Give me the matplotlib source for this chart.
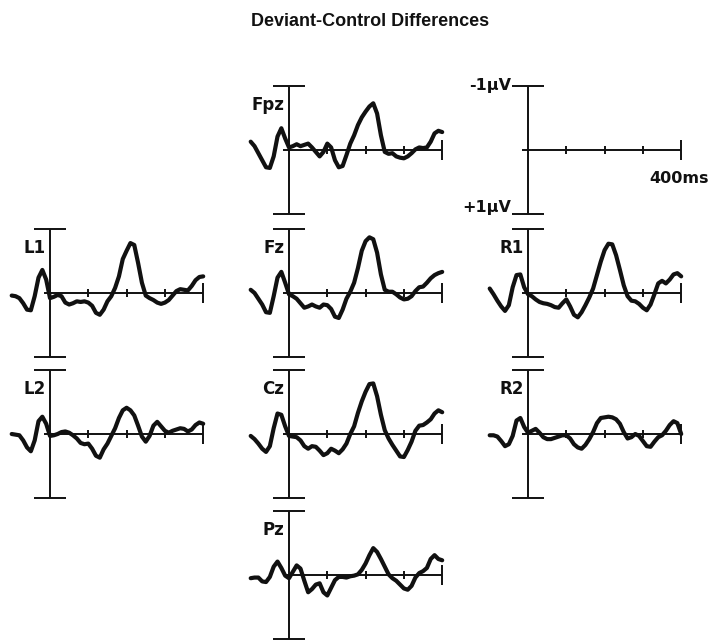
import numpy as np
import matplotlib.pyplot as plt

# time base of every trace, ms (10 ms steps, -100 .. 400)
times = np.arange(-100, 401, 10)

# deviant minus control, microvolts (negative drawn upwards)
fpz = [-0.13, -0.06, 0.05, 0.16, 0.27, 0.28, 0.10, -0.21, -0.34, -0.18,
       -0.04, -0.06, -0.09, -0.06, -0.08, -0.10, -0.04, 0.03, 0.10, 0.03,
       -0.10, -0.04, 0.16, 0.27, 0.25, 0.08, -0.10, -0.23, -0.39, -0.51,
       -0.60, -0.68, -0.73, -0.57, -0.23, 0.03, 0.06, 0.05, 0.10, 0.12,
       0.13, 0.10, 0.05, -0.01, -0.04, -0.03, -0.04, -0.13, -0.26, -0.30,
       -0.28]
l1 = [0.04, 0.05, 0.08, 0.16, 0.26, 0.27, 0.05, -0.24, -0.36, -0.21,
      0.08, 0.06, 0.03, 0.05, 0.15, 0.18, 0.16, 0.13, 0.14, 0.13,
      0.15, 0.20, 0.31, 0.34, 0.26, 0.13, 0.05, -0.08, -0.26, -0.53,
      -0.66, -0.78, -0.75, -0.47, -0.16, 0.04, 0.08, 0.11, 0.15, 0.17,
      0.15, 0.11, 0.04, -0.03, -0.06, -0.05, -0.04, -0.11, -0.20, -0.25,
      -0.26]
fz = [-0.05, 0.00, 0.09, 0.18, 0.30, 0.31, 0.05, -0.24, -0.33, -0.16,
      0.02, 0.05, 0.09, 0.16, 0.23, 0.21, 0.18, 0.21, 0.23, 0.18,
      0.19, 0.25, 0.37, 0.39, 0.26, 0.09, -0.02, -0.16, -0.39, -0.66,
      -0.81, -0.87, -0.84, -0.63, -0.29, -0.05, -0.02, -0.02, 0.02, 0.07,
      0.10, 0.09, 0.05, -0.03, -0.09, -0.10, -0.16, -0.23, -0.28, -0.31,
      -0.33]
r1 = [-0.07, 0.02, 0.12, 0.21, 0.28, 0.19, -0.09, -0.28, -0.29, -0.09,
      0.02, 0.05, 0.10, 0.14, 0.16, 0.17, 0.19, 0.22, 0.23, 0.16,
      0.10, 0.21, 0.34, 0.38, 0.30, 0.19, 0.07, -0.07, -0.28, -0.49,
      -0.67, -0.77, -0.76, -0.59, -0.36, -0.12, 0.05, 0.12, 0.13, 0.17,
      0.23, 0.27, 0.18, 0.02, -0.15, -0.19, -0.15, -0.21, -0.29, -0.31,
      -0.26]
l2 = [0.00, 0.01, 0.02, 0.10, 0.21, 0.27, 0.10, -0.20, -0.27, -0.16,
      0.03, 0.02, 0.00, -0.03, -0.04, -0.02, 0.02, 0.07, 0.14, 0.16,
      0.15, 0.23, 0.34, 0.37, 0.24, 0.15, 0.03, -0.09, -0.25, -0.37,
      -0.41, -0.37, -0.29, -0.13, 0.04, 0.12, 0.03, -0.13, -0.19, -0.12,
      -0.05, -0.02, -0.05, -0.07, -0.09, -0.08, -0.04, -0.07, -0.14, -0.18,
      -0.16]
cz = [0.03, 0.08, 0.15, 0.23, 0.28, 0.19, -0.09, -0.32, -0.30, -0.12,
      0.03, 0.04, 0.05, 0.10, 0.19, 0.23, 0.19, 0.20, 0.26, 0.33,
      0.30, 0.23, 0.26, 0.30, 0.24, 0.15, 0.00, -0.12, -0.33, -0.51,
      -0.66, -0.78, -0.79, -0.59, -0.30, -0.06, 0.07, 0.17, 0.26, 0.35,
      0.36, 0.25, 0.12, -0.05, -0.13, -0.14, -0.18, -0.23, -0.32, -0.37,
      -0.34]
r2 = [0.02, 0.02, 0.04, 0.11, 0.19, 0.16, 0.03, -0.21, -0.25, -0.11,
      -0.02, -0.05, -0.08, -0.02, 0.05, 0.08, 0.08, 0.06, 0.04, 0.02,
      0.02, 0.07, 0.16, 0.21, 0.23, 0.17, 0.08, -0.03, -0.17, -0.25,
      -0.26, -0.27, -0.26, -0.23, -0.16, -0.03, 0.07, 0.05, 0.00, 0.03,
      0.11, 0.19, 0.20, 0.12, 0.05, 0.02, -0.05, -0.14, -0.20, -0.17,
      0.00]
pz = [0.05, 0.04, 0.04, 0.10, 0.11, 0.03, -0.13, -0.21, -0.11, 0.01,
      0.05, -0.05, -0.15, -0.10, 0.09, 0.27, 0.22, 0.15, 0.13, 0.27,
      0.32, 0.20, 0.08, 0.03, 0.03, 0.04, 0.02, 0.01, -0.01, -0.08,
      -0.18, -0.31, -0.42, -0.36, -0.25, -0.13, -0.01, 0.05, 0.09, 0.15,
      0.21, 0.23, 0.17, 0.04, -0.03, -0.06, -0.11, -0.25, -0.31, -0.25,
      -0.23]

channels = ['Fpz', 'L1', 'Fz', 'R1', 'L2', 'Cz', 'R2', 'Pz']
waves = [fpz, l1, fz, r1, l2, cz, r2, pz]

# grid slot (row, col) of each electrode, and of the scale bar
slots = {'Fpz': (0, 1), 'L1': (1, 0), 'Fz': (1, 1), 'R1': (1, 2),
         'L2': (2, 0), 'Cz': (2, 1), 'R2': (2, 2), 'Pz': (3, 1)}
scale_slot = (0, 2)

# page geometry in pixels
W, H = 708, 641
COL_X = [50, 289, 528]
ROW_Y = [150, 293, 434, 575]
PX_MS = 0.383      # pixels per ms
PX_UV = 64.0       # pixels per microvolt
T_LIM = (-150, 480)
V_LIM = 1.3
INK = '#111111'


def panel_axes(fig, row, col):
    """axes whose origin (0 ms, 0 uV) sits on the grid point of a slot"""
    x0, y0 = COL_X[col], ROW_Y[row]
    left = x0 + T_LIM[0] * PX_MS
    width = (T_LIM[1] - T_LIM[0]) * PX_MS
    top = y0 - V_LIM * PX_UV
    height = 2 * V_LIM * PX_UV
    ax = fig.add_axes([left / W, (H - top - height) / H, width / W, height / H])
    ax.set_xlim(*T_LIM)
    ax.set_ylim(V_LIM, -V_LIM)   # negative up
    ax.axis('off')
    return ax


def draw_frame(ax):
    """amplitude bar with caps, time axis with 100 ms ticks"""
    kw = dict(color=INK, lw=1.4, clip_on=False)
    ax.vlines(0, -1, 1, **kw)
    ax.hlines([-1, 1], -42, 42, **kw)
    ax.hlines(0, -15, 400, **kw)
    ax.vlines([100, 200, 300], -0.07, 0.07, **kw)
    ax.vlines(400, -0.15, 0.15, **kw)


fig = plt.figure(figsize=(W / 100, H / 100), dpi=100, facecolor='w')

for name, wave in zip(channels, waves):
    ax = panel_axes(fig, *slots[name])
    draw_frame(ax)
    ax.plot(times, wave, color=INK, lw=3.0, solid_joinstyle='round',
            solid_capstyle='round', clip_on=False)
    ax.text(-12, -0.70, name, ha='right', va='center', fontsize=12,
            fontweight='bold', family='DejaVu Sans', color=INK)

# calibration panel
ax = panel_axes(fig, *scale_slot)
draw_frame(ax)
lab = dict(fontsize=11.5, fontweight='bold', family='DejaVu Sans', color=INK)
ax.text(-44, -1.0, '-1\u00b5V', ha='right', va='center', **lab)
ax.text(-44, 0.9, '+1\u00b5V', ha='right', va='center', **lab)
ax.text(472, 0.44, '400ms', ha='right', va='center', **lab)

fig.text(370 / W, 1 - 22 / H, 'Deviant-Control Differences', ha='center',
         va='center', fontsize=13, fontweight='bold',
         family='Liberation Sans', color=INK)

plt.savefig('out.png', dpi=100, facecolor='w')
